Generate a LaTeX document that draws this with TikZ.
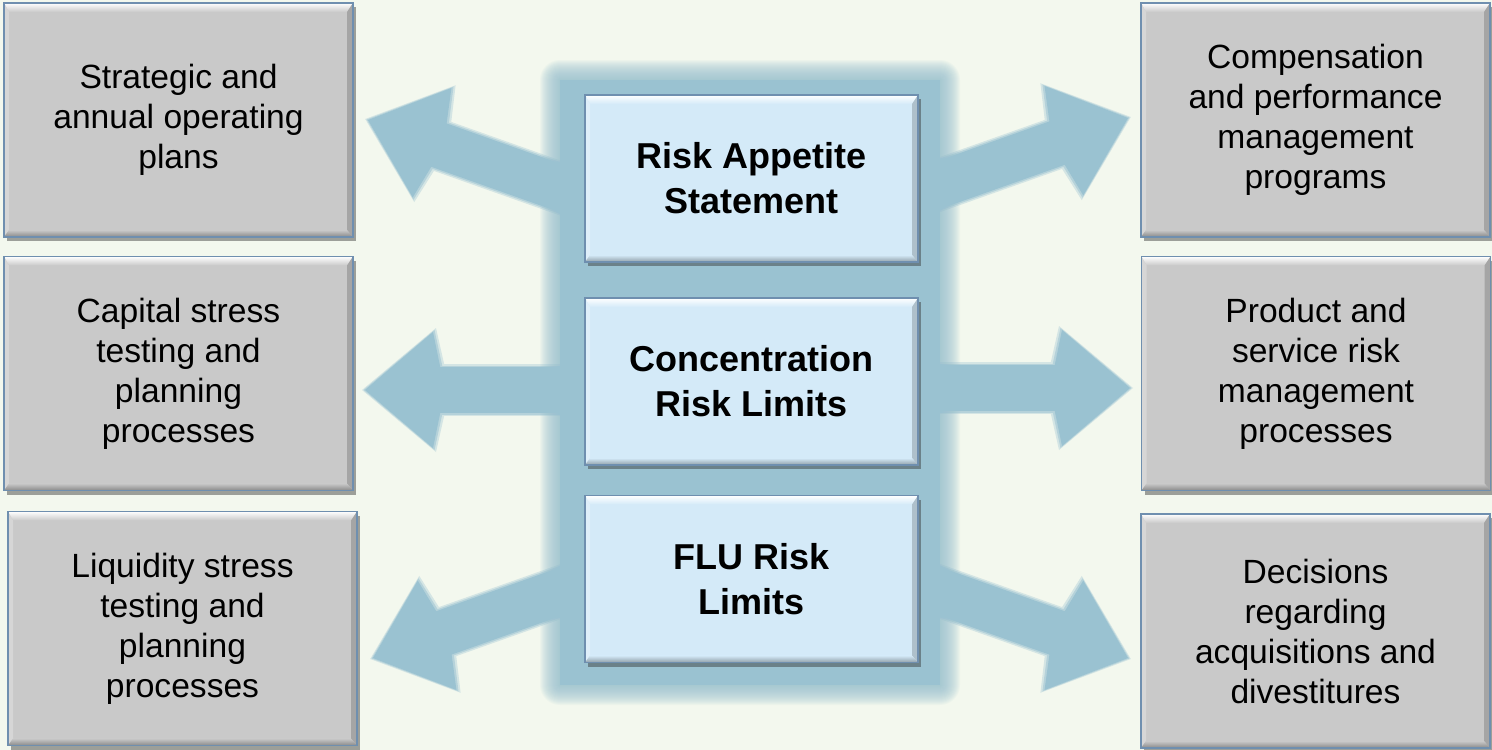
\documentclass[tikz,border=0pt]{standalone}
\usepackage{fontspec}
\setmainfont{Liberation Sans}
\usetikzlibrary{arrows.meta,shadows}

\definecolor{pagebg}{HTML}{F3F8EE}
\definecolor{flowblue}{HTML}{9AC2D1}
\definecolor{greyfill}{HTML}{C9C9C9}
\definecolor{paleblue}{HTML}{D4EAF8}
\definecolor{edgeblue}{HTML}{6F8FAF}

\tikzset{
  % raised box with a bevelled rim and a drop shadow
  bevelled/.style={
    rectangle, inner sep=0pt, align=center,
    draw=edgeblue, line width=1.4pt, fill=#1,
    drop shadow={shadow xshift=3pt, shadow yshift=-4pt, opacity=0.45, fill=black!80},
    path picture={
      \coordinate (pa) at (path picture bounding box.north west);
      \coordinate (pb) at (path picture bounding box.north east);
      \coordinate (pc) at (path picture bounding box.south east);
      \coordinate (pd) at (path picture bounding box.south west);
      \shade[top color=white, bottom color=#1]
        (pa) -- (pb) -- ([shift={(-6pt,-9pt)}]pb) -- ([shift={(5pt,-9pt)}]pa) -- cycle;
      \fill[#1!75!white]
        (pa) -- ([shift={(5pt,-9pt)}]pa) -- ([shift={(5pt,7pt)}]pd) -- (pd) -- cycle;
      \fill[#1!82!black]
        (pb) -- ([shift={(-6pt,-9pt)}]pb) -- ([shift={(-6pt,7pt)}]pc) -- (pc) -- cycle;
      \shade[top color=#1, bottom color=#1!68!black]
        (pd) -- ([shift={(5pt,7pt)}]pd) -- ([shift={(-6pt,7pt)}]pc) -- (pc) -- cycle;
    }
  },
  sidebox/.style={bevelled=greyfill, minimum width=349pt, minimum height=234pt,
    font=\fontsize{33.6}{40}\selectfont},
  corebox/.style={bevelled=paleblue, minimum width=333pt, minimum height=167pt,
    font=\bfseries\fontsize{36}{45}\selectfont},
  flowhaloout/.style={draw=flowblue!35!pagebg, line width=52pt, shorten >=-3pt,
    -{Kite[length=88pt, width=124pt, inset=14pt, line width=0pt]}},
  flowhaloin/.style={draw=flowblue!70!pagebg, line width=49pt, shorten >=-1.5pt,
    -{Kite[length=84pt, width=120pt, inset=13pt, line width=0pt]}},
  flow/.style={draw=flowblue, line width=46pt,
    -{Kite[length=80pt, width=116pt, inset=12pt, line width=0pt]}},
}

\begin{document}
\begin{tikzpicture}[x=1pt, y=-1pt]
  \useasboundingbox[fill=pagebg] (0,0) rectangle (1492,750);

  % tails of the fat arrows (inside the panel) and their tips
  \coordinate (tlTail) at (594,200);  \coordinate (tlTip) at (368,120);
  \coordinate (mlTail) at (600,390);  \coordinate (mlTip) at (365,390);
  \coordinate (blTail) at (599,578);  \coordinate (blTip) at (373,658);
  \coordinate (trTail) at (902,198);  \coordinate (trTip) at (1128,118);
  \coordinate (mrTail) at (900,388);  \coordinate (mrTip) at (1130,388);
  \coordinate (brTail) at (902,578);  \coordinate (brTip) at (1128,658);

  % soft rims of the arrows
  \foreach \a in {tl,ml,bl,tr,mr,br}
    \draw[flowhaloout] (\a Tail) -- (\a Tip);
  \foreach \a in {tl,ml,bl,tr,mr,br}
    \draw[flowhaloin] (\a Tail) -- (\a Tip);

  % glowing backing panel behind the three central boxes
  \fill[flowblue] (560,80) rectangle (940,685);
  \foreach \d in {1,...,20}
    \fill[flowblue, opacity=0.075, rounded corners=\d pt]
      ({560-\d},{80-\d}) rectangle ({940+\d},{685+\d});

  % fat arrows from the panel out to the side boxes
  \foreach \a in {tl,ml,bl,tr,mr,br}
    \draw[flow] (\a Tail) -- (\a Tip);

  % central statements
  \node[corebox] (appetite) at (751.5,178.5) {Risk Appetite\\Statement};
  \node[corebox] (concentration) at (751.5,381.5) {Concentration\\Risk Limits};
  \node[corebox] (flu) at (751.5,579) {FLU Risk\\Limits};

  % left-hand processes
  \node[sidebox] (strategic) at (178.5,120) {Strategic and\\annual operating\\plans};
  \node[sidebox] (capital) at (178.5,373.5) {Capital stress\\testing and\\planning\\processes};
  \node[sidebox] (liquidity) at (182.5,628.5) {Liquidity stress\\testing and\\planning\\processes};

  % right-hand processes
  \node[sidebox] (compensation) at (1315.5,120) {Compensation\\and performance\\management\\programs};
  \node[sidebox] (product) at (1316,373.5) {Product and\\service risk\\management\\processes};
  \node[sidebox] (decisions) at (1315.5,631) {Decisions\\regarding\\acquisitions and\\divestitures};
\end{tikzpicture}
\end{document}
